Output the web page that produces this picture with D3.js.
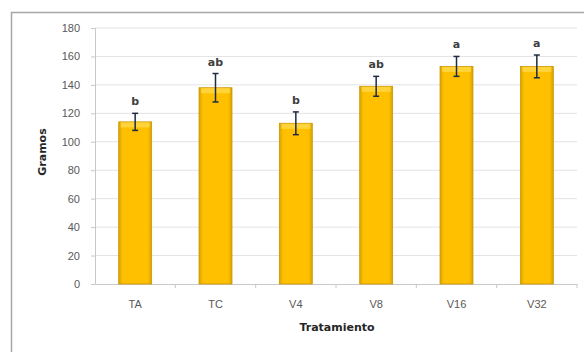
<!DOCTYPE html>
<html><head><meta charset="utf-8">
<script src="https://cdn.jsdelivr.net/npm/d3@7"></script>
<style>body{margin:0;background:#fff;}svg{display:block;font-family:"DejaVu Sans",Verdana,sans-serif;}</style>
</head><body><svg id="c" width="584" height="352"></svg>
<script>
const categories = ["TA","TC","V4","V8","V16","V32"];
const values = [114, 138, 113, 139, 153, 153];
const errors = [6, 10, 8, 7, 7, 8];
const letters = ["b","ab","b","ab","a","a"];
const yTicks = [0,20,40,60,80,100,120,140,160,180];

const svg = d3.select("#c");
const m = {l:95, r:7, t:28, b:68};
const W = 584, H = 352;
const x = d3.scaleBand().domain(categories).range([m.l, W - m.r]).paddingInner(0.59).paddingOuter(0.295);
const y = d3.scaleLinear().domain([0,180]).range([H - m.b, m.t]);

// chart border
svg.append("rect").attr("x",11.5).attr("y",12.5).attr("width",600).attr("height",400)
  .attr("fill","none").attr("stroke","#a6a6a6").attr("stroke-width",1.5);

// gradient
const defs = svg.append("defs");
const g = defs.append("linearGradient").attr("id","bar").attr("x1","0").attr("x2","1");
g.append("stop").attr("offset","0").attr("stop-color","#D9A300");
g.append("stop").attr("offset","0.12").attr("stop-color","#FFC000");
g.append("stop").attr("offset","0.88").attr("stop-color","#FFC000");
g.append("stop").attr("offset","1").attr("stop-color","#D9A300");

// gridlines
svg.append("g").selectAll("line").data(yTicks.filter(d=>d>0)).join("line")
  .attr("x1", m.l).attr("x2", W - m.r)
  .attr("y1", d=>y(d)).attr("y2", d=>y(d))
  .attr("stroke","#e3e3e3").attr("stroke-width",1);

// y axis
const ya = svg.append("g").attr("transform",`translate(${m.l},0)`)
  .call(d3.axisLeft(y).tickValues(yTicks).tickSize(4).tickPadding(11));
ya.select(".domain").attr("stroke","#c8c8c8");
ya.selectAll(".tick line").attr("stroke","#c8c8c8");
ya.selectAll("text").attr("fill","#595959").attr("font-size","11px");

// x axis
const xa = svg.append("g").attr("transform",`translate(0,${y(0)})`)
  .call(d3.axisBottom(x).tickSize(0).tickPadding(16));
xa.select(".domain").attr("stroke","#c8c8c8");
xa.selectAll("text").attr("fill","#595959").attr("font-size","11px");
// category separators
const step = x.step();
svg.append("g").selectAll("line").data(categories).join("line")
  .attr("x1", d=>x(d)+x.bandwidth()/2+step/2).attr("x2", d=>x(d)+x.bandwidth()/2+step/2)
  .attr("y1", y(0)).attr("y2", y(0)+4).attr("stroke","#c8c8c8");

// bars
svg.append("g").selectAll("rect").data(categories).join("rect")
  .attr("x", d=>x(d)).attr("width", x.bandwidth())
  .attr("y", (d,i)=>y(values[i])).attr("height", (d,i)=>y(0)-y(values[i]))
  .attr("fill","url(#bar)").attr("stroke","#C99500").attr("stroke-width",0.8);
// top highlight
svg.append("g").selectAll("rect").data(categories).join("rect")
  .attr("x", d=>x(d)+2).attr("width", x.bandwidth()-4)
  .attr("y", (d,i)=>y(values[i])+0.5).attr("height", 5)
  .attr("fill","#FFD84A").attr("opacity",0.8);

// error bars
const eb = svg.append("g").attr("stroke","#1f2a44").attr("stroke-width",1.5);
categories.forEach((c,i)=>{
  const cx = x(c)+x.bandwidth()/2;
  eb.append("line").attr("x1",cx).attr("x2",cx).attr("y1",y(values[i]+errors[i])).attr("y2",y(values[i]-errors[i]));
  eb.append("line").attr("x1",cx-3).attr("x2",cx+3).attr("y1",y(values[i]+errors[i])).attr("y2",y(values[i]+errors[i]));
  eb.append("line").attr("x1",cx-3).attr("x2",cx+3).attr("y1",y(values[i]-errors[i])).attr("y2",y(values[i]-errors[i]));
});

// letters
svg.append("g").selectAll("text").data(categories).join("text")
  .attr("x", d=>x(d)+x.bandwidth()/2)
  .attr("y", (d,i)=>y(values[i]+errors[i])-8)
  .attr("text-anchor","middle").attr("font-size","11px").attr("font-weight","bold").attr("fill","#404040")
  .text((d,i)=>letters[i]);

// axis titles
svg.append("text").attr("x", 337).attr("y", 331).attr("text-anchor","middle")
  .attr("font-size","11px").attr("font-weight","bold").attr("fill","#262626").text("Tratamiento");
svg.append("text").attr("transform","translate(46,152) rotate(-90)").attr("text-anchor","middle")
  .attr("font-size","11px").attr("font-weight","bold").attr("fill","#262626").text("Gramos");
</script></body></html>
